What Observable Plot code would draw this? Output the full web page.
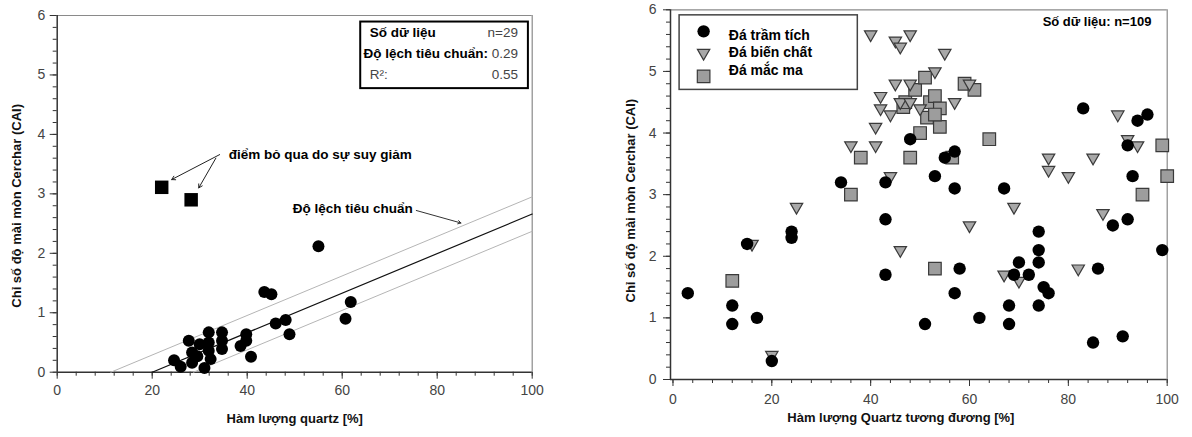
<!DOCTYPE html>
<html><head><meta charset="utf-8">
<script src="https://cdn.jsdelivr.net/npm/d3@7"></script>
<script src="https://cdn.jsdelivr.net/npm/@observablehq/plot@0.6"></script>
<style>
body{margin:0;background:#fff;}
#wrap{position:relative;width:1192px;height:437px;overflow:hidden;background:#fff;}
#left{position:absolute;left:0;top:0;}
#right{position:absolute;left:560px;top:0;}
</style></head><body><div id="wrap"><div id="left"></div><div id="right"></div></div>
<script>
// ---------- Left chart data ----------
const leftQuartz = [24.6, 26, 27.7, 28.4, 28.4, 29.5, 30, 31, 31.9, 31.9, 31.9, 32.3, 34.7, 34.7, 34.7, 38.6, 39.8, 39.8, 40.8, 43.6, 45.1, 46, 48.1, 48.9, 55, 60.7, 61.8];
const leftCAI    = [0.2, 0.09, 0.53, 0.33, 0.16, 0.27, 0.47, 0.07, 0.67, 0.5, 0.36, 0.22, 0.67, 0.53, 0.39, 0.44, 0.64, 0.53, 0.26, 1.35, 1.31, 0.82, 0.88, 0.64, 2.12, 0.9, 1.18];
const excludedQuartz = [22, 28.2];
const excludedCAI = [3.11, 2.9];
const fitX = [20, 100], fitY = [0, 2.66];
const sdUpperX = [11.3, 100], sdUpperY = [0, 2.95];
const sdLowerX = [28.7, 100], sdLowerY = [0, 2.37];
const leftStatsBold = ["Số dữ liệu", "Độ lệch tiêu chuẩn:"];
const leftStatsPlain = ["R²:"];
const leftStatsValues = ["n=29", "0.29", "0.55"];
const leftAnnotation = "điểm bỏ qua do sự suy giảm";
const sdAnnotation = "Độ lệch tiêu chuẩn";
const leftXTitle = "Hàm lượng quartz [%]";
const yTitle = "Chỉ số độ mài mòn Cerchar (CAI)";

// ---------- Right chart data ----------
const sedQuartz = [3, 12, 12, 17, 15, 20, 24, 24, 34, 43, 43, 43, 48, 53, 55, 57, 57, 57, 58, 51, 62, 67, 68, 68, 69, 70, 72, 74, 74, 74, 74, 75, 76, 83, 86, 85, 89, 91, 92, 92, 93, 94, 96, 99];
const sedCAI    = [1.4, 1.2, 0.9, 1.0, 2.2, 0.3, 2.4, 2.3, 3.2, 3.2, 2.6, 1.7, 3.9, 3.3, 3.6, 3.7, 3.1, 1.4, 1.8, 0.9, 1.0, 3.1, 1.2, 0.9, 1.7, 1.9, 1.7, 2.4, 2.1, 1.9, 1.2, 1.5, 1.4, 4.4, 1.8, 0.6, 2.5, 0.7, 2.6, 3.8, 3.3, 4.2, 4.3, 2.1];
const metQuartz = [40, 45, 48, 46, 55, 53, 45, 48, 60, 42, 42, 44, 46, 48, 50, 57, 41, 36, 41, 44, 16, 25, 20, 46, 90, 92, 94, 76, 76, 80, 85, 69, 60, 67, 70, 82, 87];
const metCAI    = [5.6, 5.5, 5.6, 5.4, 5.3, 5.0, 4.8, 4.8, 4.8, 4.6, 4.4, 4.3, 4.5, 4.5, 4.4, 4.5, 4.1, 3.8, 3.8, 3.3, 2.2, 2.8, 0.4, 2.1, 4.3, 3.9, 3.8, 3.6, 3.4, 3.3, 3.6, 2.8, 2.5, 1.7, 1.6, 1.8, 2.7];
const ignQuartz = [12, 36, 38, 48, 46.6, 47, 49, 51, 51.4, 52, 53, 54, 54, 50, 53, 59, 61, 64, 56.5, 53, 95, 99, 100];
const ignCAI    = [1.6, 3.0, 3.6, 3.6, 4.42, 4.5, 4.7, 4.9, 4.25, 4.5, 4.6, 4.4, 4.1, 4.0, 4.3, 4.8, 4.7, 3.9, 3.6, 1.8, 3.0, 3.8, 3.3];
const rockTypes = ["Đá trầm tích", "Đá biến chất", "Đá mắc ma"];
const rightCount = "Số dữ liệu: n=109";
const rightXTitle = "Hàm lượng Quartz tương đương [%]";

const xMajor = [0, 20, 40, 60, 80, 100];
const yMajor = [0, 1, 2, 3, 4, 5, 6];

// ---------- helpers ----------
const FONT = "'Liberation Sans', Arial, sans-serif";
const rows = (xs, ys) => xs.map((x, i) => ({x, y: ys[i]}));
const fmt = d3.format("d");
function axisMarks(x0, xPad, yPad) {
  return [
    Plot.axisX(d3.range(0, 101, 4), {tickSize: 4, tickFormat: () => "", stroke: "#333", label: null}),
    Plot.axisY(d3.range(0, 31).map(v => v / 5), {tickSize: 4, tickFormat: () => "", stroke: "#333", label: null}),
    Plot.axisX(xMajor, {tickSize: 7, tickPadding: xPad, tickFormat: fmt, fontSize: 14, stroke: "#333", fill: "#444", label: null}),
    Plot.axisY(yMajor, {tickSize: 7, tickPadding: yPad, tickFormat: fmt, fontSize: 14, stroke: "#333", fill: "#444", label: null}),
    Plot.ruleY([6], {stroke: "#8a8a8a", strokeWidth: 1.2}),
    Plot.ruleX([100], {stroke: "#8a8a8a", strokeWidth: 1.2}),
    Plot.ruleY([0], {x1: x0, x2: 100, stroke: "#333", strokeWidth: 1.5}),
    Plot.ruleX([x0], {y1: 0, y2: 6, stroke: "#333", strokeWidth: 1.5})
  ];
}
const rowY = [5.71, 5.36, 5.01];

// ---------- Left chart ----------
const leftPlot = Plot.plot({
  width: 560, height: 437,
  marginLeft: 56.7, marginRight: 28.3, marginTop: 15, marginBottom: 65.3,
  x: {domain: [0, 100]},
  y: {domain: [0, 6]},
  style: {fontFamily: FONT, fontSize: "14px", color: "#333", background: "white", overflow: "visible"},
  marks: [
    ...axisMarks(0, 6, 5),
    Plot.line(rows(sdUpperX, sdUpperY), {x: "x", y: "y", stroke: "#b5b5b5", strokeWidth: 1}),
    Plot.line(rows(sdLowerX, sdLowerY), {x: "x", y: "y", stroke: "#b5b5b5", strokeWidth: 1}),
    Plot.line(rows(fitX, fitY), {x: "x", y: "y", stroke: "#111", strokeWidth: 1.2}),
    Plot.dot(rows(leftQuartz, leftCAI), {x: "x", y: "y", r: 6, fill: "black"}),
    Plot.dot(rows(excludedQuartz, excludedCAI), {x: "x", y: "y", r: 7.6, symbol: "square", fill: "black"}),
    Plot.arrow([0], {x1: 34.2, y1: 3.66, x2: 24.1, y2: 3.24, stroke: "#222", strokeWidth: 1, headLength: 6, bend: 0}),
    Plot.arrow([0], {x1: 33.4, y1: 3.6, x2: 29.8, y2: 3.1, stroke: "#222", strokeWidth: 1, headLength: 6, bend: 0}),
    Plot.text([leftAnnotation], {x: 36.1, y: 3.66, text: d => d, textAnchor: "start", fontWeight: "bold", fontSize: 13.5, fill: "black"}),
    Plot.text([sdAnnotation], {x: 49.6, y: 2.75, text: d => d, textAnchor: "start", fontWeight: "bold", fontSize: 13.5, fill: "black"}),
    Plot.arrow([0], {x1: 75.6, y1: 2.72, x2: 85, y2: 2.51, stroke: "#333", strokeWidth: 1, headLength: 5, bend: 0}),
    Plot.rect([0], {x1: 63.9, x2: 99.2, y1: 4.77, y2: 5.89, fill: "white", stroke: "black", strokeWidth: 2}),
    Plot.text(leftStatsBold, {x: (d, i) => i === 1 ? 64.5 : 65.8, y: (d, i) => rowY[i], text: d => d, textAnchor: "start", fontWeight: "bold", fontSize: 13.5, fill: "black"}),
    Plot.text(leftStatsPlain, {x: 65.8, y: rowY[2], text: d => d, textAnchor: "start", fontSize: 13.5, fill: "#444"}),
    Plot.text(leftStatsValues, {x: 97, y: (d, i) => rowY[i], text: d => d, textAnchor: "end", fontSize: 13.5, fill: "#444"}),
    Plot.text([yTitle], {frameAnchor: "left", textAnchor: "middle", dx: -40, dy: 12, rotate: -90, text: d => d, fontWeight: "bold", fontSize: 13, fill: "#111"}),
    Plot.text([leftXTitle], {frameAnchor: "bottom", textAnchor: "middle", dy: 50.3, text: d => d, fontWeight: "bold", fontSize: 13, fill: "#111"})
  ]
});
document.getElementById("left").appendChild(leftPlot);

// ---------- Right chart ----------
const rightPlot = Plot.plot({
  width: 632, height: 437,
  marginLeft: 110, marginRight: 25.3, marginTop: 9.3, marginBottom: 58,
  x: {domain: [-0.5, 100]},
  y: {domain: [0, 6]},
  style: {fontFamily: FONT, fontSize: "14px", color: "#333", background: "white", overflow: "visible"},
  marks: [
    ...axisMarks(-0.5, 8, 7),
    Plot.dot(rows(ignQuartz, ignCAI), {x: "x", y: "y", r: 7.1, symbol: "square", fill: "#9d9d9d", stroke: "#3a3a3a", strokeWidth: 1.2}),
    Plot.dot(rows(metQuartz, metCAI), {x: "x", y: "y", r: 4.6, symbol: "triangle", rotate: 180, fill: "#a8a8a8", stroke: "#3a3a3a", strokeWidth: 1.2}),
    Plot.dot(rows(sedQuartz, sedCAI), {x: "x", y: "y", r: 6.2, fill: "black"}),
    Plot.rect([0], {x1: 1.34, x2: 37.4, y1: 4.70, y2: 5.91, fill: "white", stroke: "#444", strokeWidth: 1.5}),
    Plot.dot([0], {x: 6.2, y: 5.65, r: 6.2, fill: "black"}),
    Plot.dot([0], {x: 6.2, y: 5.30, r: 4.6, symbol: "triangle", rotate: 180, fill: "#a8a8a8", stroke: "#3a3a3a", strokeWidth: 1.2}),
    Plot.dot([0], {x: 6.2, y: 4.92, r: 7.1, symbol: "square", fill: "#9d9d9d", stroke: "#3a3a3a", strokeWidth: 1.2}),
    Plot.text(rockTypes, {x: 11.3, y: (d, i) => [5.58, 5.31, 5.02][i], text: d => d, textAnchor: "start", fontWeight: "bold", fontSize: 14, fill: "black"}),
    Plot.text([rightCount], {x: 96.8, y: 5.8, text: d => d, textAnchor: "end", fontWeight: "bold", fontSize: 13, fill: "black"}),
    Plot.text([yTitle], {frameAnchor: "left", textAnchor: "middle", dx: -40, dy: 6, rotate: -90, text: d => d, fontWeight: "bold", fontSize: 13, fill: "#111"}),
    Plot.text([rightXTitle], {frameAnchor: "bottom", textAnchor: "middle", dx: -18, dy: 42.7, text: d => d, fontWeight: "bold", fontSize: 13, fill: "#111"})
  ]
});
document.getElementById("right").appendChild(rightPlot);
</script>
</body></html>
